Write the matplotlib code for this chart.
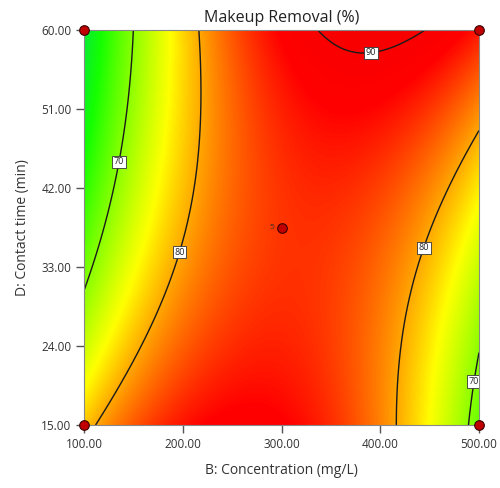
import numpy as np
import matplotlib
matplotlib.use("Agg")
import matplotlib.pyplot as plt
from matplotlib.colors import LinearSegmentedColormap

plt.rcParams['font.family'] = ['Open Sans', 'DejaVu Sans']

# factor ranges
conc_range = [100.0, 500.0]      # B: mg/L
time_range = [15.0, 60.0]        # D: min

# fitted quadratic in coded units: a, b(B), c(D), d(BD), e(B^2), f(D^2)
coef = [85.3, 3.99, 0.065, 9.21, -14.5, 2.70]

contour_levels = [70, 80, 90]
label_pos = [(134, 45.0), (197, 34.7), (390, 57.8), (436, 35.5), (492, 20.0)]

design_B = [100, 100, 500, 500, 300]
design_D = [15, 60, 15, 60, 37.5]
design_reps = [1, 1, 1, 1, 5]

xticks = [100, 200, 300, 400, 500]
yticks = [15, 24, 33, 42, 51, 60]


def response(B, D):
    u = (B - 300.0) / 200.0
    v = (D - 37.5) / 22.5
    a, b, c, d, e, f = coef
    return a + b * u + c * v + d * u * v + e * u ** 2 + f * v ** 2


# green -> yellow -> red scale
cmap_stops = [(58, (0.0, 0.88, 0.35)), (64, (0.08, 1.0, 0.0)),
              (76, (1.0, 1.0, 0.0)), (87.8, (1.0, 0.0, 0.0)), (93, (0.95, 0.0, 0.0))]
vmin, vmax = cmap_stops[0][0], cmap_stops[-1][0]
cmap = LinearSegmentedColormap.from_list(
    'de', [((v - vmin) / (vmax - vmin), c) for v, c in cmap_stops])

fig = plt.figure(figsize=(5.0, 4.88), dpi=100)
ax = fig.add_axes([0.168, 0.129, 0.79, 0.8095])

bb = np.linspace(conc_range[0], conc_range[1], 400)
dd = np.linspace(time_range[0], time_range[1], 400)
BB, DD = np.meshgrid(bb, dd)
ZZ = response(BB, DD)

ax.imshow(ZZ, origin='lower', extent=[*conc_range, *time_range], aspect='auto',
          cmap=cmap, vmin=vmin, vmax=vmax, interpolation='bilinear')
cs = ax.contour(BB, DD, ZZ, levels=contour_levels, colors='#1a1a1a', linewidths=1.0)
labels = ax.clabel(cs, fmt='%d', inline=False, fontsize=6.5, manual=label_pos)
for t in labels:
    t.set_rotation(0)
    t.set_color('#222222')
    t.set_bbox(dict(facecolor='white', edgecolor='#333333', linewidth=0.6, pad=1.2))

ax.scatter(design_B, design_D, s=48, c='#c00000', edgecolors='#3a0000',
           linewidths=0.8, zorder=5, clip_on=False)
for b, d, n in zip(design_B, design_D, design_reps):
    if n > 1:
        ax.text(b - 7, d, str(n), fontsize=6, color='#333333', ha='right', va='center')

ax.set_xlim(conc_range)
ax.set_ylim(time_range)
ax.set_xticks(xticks)
ax.set_yticks(yticks)
ax.set_xticklabels(['%.2f' % x for x in xticks])
ax.set_yticklabels(['%.2f' % y for y in yticks])
ax.tick_params(direction='out', length=6, width=1, color='#555555',
               labelsize=8.5, labelcolor='#333333', pad=3)
for s in ax.spines.values():
    s.set_color('#888888')
    s.set_linewidth(0.8)

ax.set_title('Makeup Removal (%)', fontsize=11.5, color='#222222', pad=6)
ax.set_xlabel('B: Concentration (mg/L)', fontsize=10, color='#333333', labelpad=9)
ax.set_ylabel('D: Contact time (min)', fontsize=10, color='#333333', labelpad=8)

fig.savefig('out.png', dpi=100)
